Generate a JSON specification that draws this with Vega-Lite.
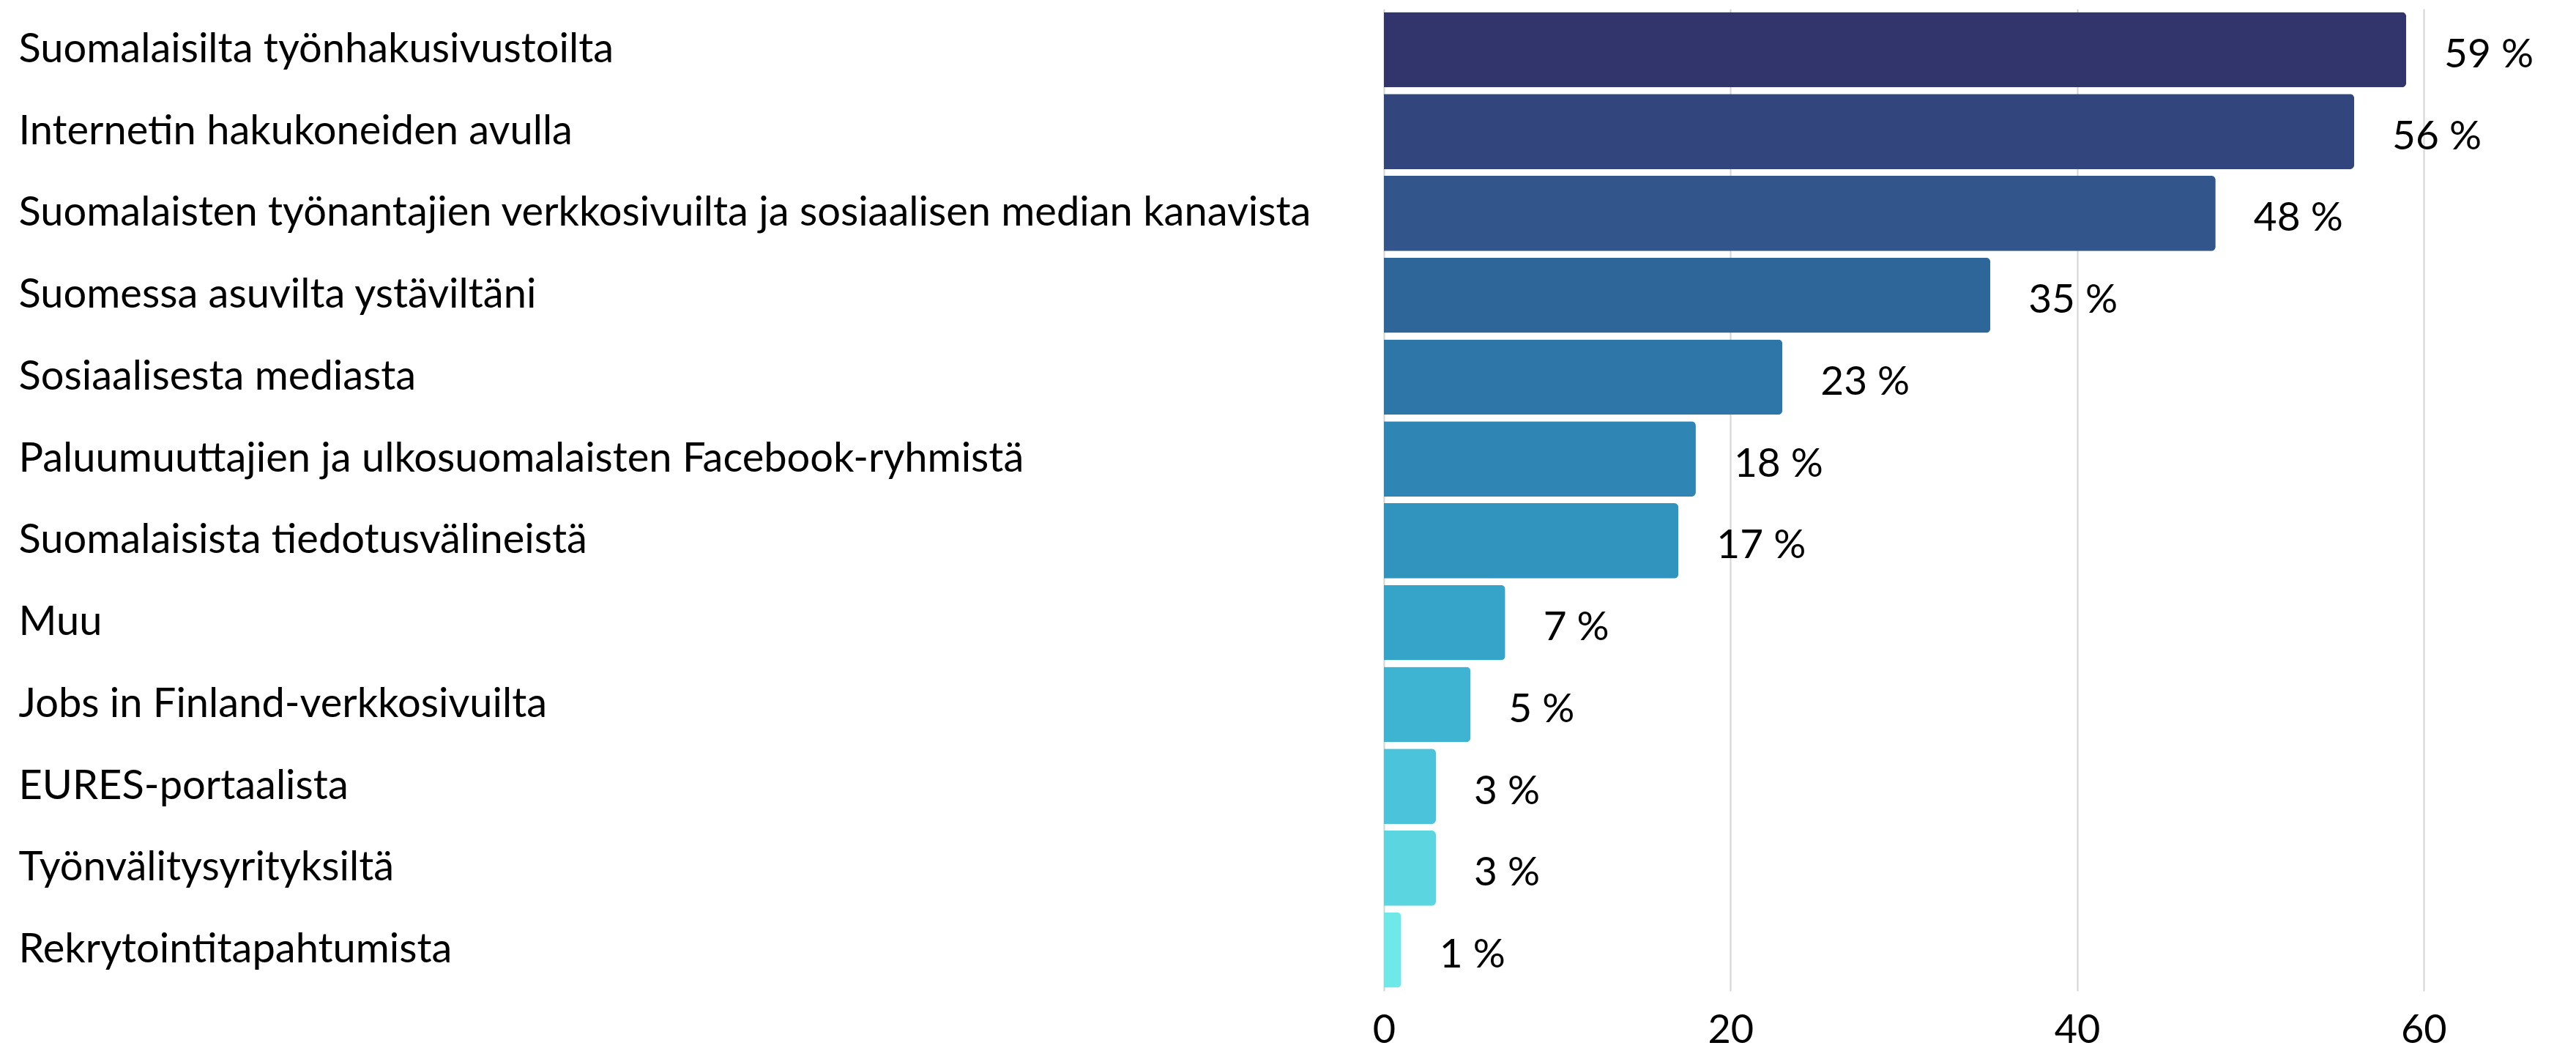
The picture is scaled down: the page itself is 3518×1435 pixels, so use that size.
{
  "$schema": "https://vega.github.io/schema/vega-lite/v6.json",
  "autosize": "none",
  "padding": {"left": 1890, "top": 12, "right": 0, "bottom": 82},
  "width": 1628,
  "height": 1341,
  "background": "white",
  "config": {
    "view": {"stroke": null},
    "font": "Lato"
  },
  "data": {
    "values": [
      {"source": " Suomalaisilta työnhakusivustoilta", "value": 59},
      {"source": "Internetin hakukoneiden avulla", "value": 56},
      {"source": "Suomalaisten työnantajien verkkosivuilta ja sosiaalisen median kanavista", "value": 48},
      {"source": "Suomessa asuvilta ystäviltäni", "value": 35},
      {"source": "Sosiaalisesta mediasta", "value": 23},
      {"source": "Paluumuuttajien ja ulkosuomalaisten Facebook-ryhmistä", "value": 18},
      {"source": "Suomalaisista tiedotusvälineistä", "value": 17},
      {"source": "Muu", "value": 7},
      {"source": "Jobs in Finland-verkkosivuilta", "value": 5},
      {"source": "EURES-portaalista", "value": 3},
      {"source": "Työnvälitysyrityksiltä", "value": 3},
      {"source": "Rekrytointitapahtumista", "value": 1}
    ]
  },
  "transform": [{"calculate": "datum.value + ' %'", "as": "label"}],
  "encoding": {
    "y": {
      "field": "source",
      "type": "nominal",
      "sort": null,
      "scale": {"paddingInner": 0.08, "paddingOuter": 0.04},
      "axis": {
        "title": null,
        "ticks": false,
        "tickSize": 0,
        "domain": false,
        "grid": false,
        "labelAlign": "left",
        "labelPadding": 1865,
        "labelLimit": 1850,
        "labelFontSize": 56,
        "labelFont": "Lato",
        "labelColor": "#000000"
      }
    },
    "x": {
      "field": "value",
      "type": "quantitative",
      "scale": {"domain": [0, 68.8], "nice": false},
      "axis": {
        "title": null,
        "values": [0, 20, 40, 60],
        "ticks": false,
        "tickSize": 0,
        "domain": false,
        "grid": true,
        "gridColor": "#d4d4d4",
        "gridWidth": 2,
        "labelFontSize": 54,
        "labelFont": "Lato",
        "labelColor": "#000000",
        "labelBaseline": "alphabetic",
        "labelPadding": 70,
        "labelFlush": false
      }
    }
  },
  "layer": [
    {
      "mark": {"type": "bar", "cornerRadiusEnd": 6},
      "encoding": {
        "color": {
          "field": "source",
          "type": "nominal",
          "sort": null,
          "legend": null,
          "scale": {
            "domain": [
              " Suomalaisilta työnhakusivustoilta",
              "Internetin hakukoneiden avulla",
              "Suomalaisten työnantajien verkkosivuilta ja sosiaalisen median kanavista",
              "Suomessa asuvilta ystäviltäni",
              "Sosiaalisesta mediasta",
              "Paluumuuttajien ja ulkosuomalaisten Facebook-ryhmistä",
              "Suomalaisista tiedotusvälineistä",
              "Muu",
              "Jobs in Finland-verkkosivuilta",
              "EURES-portaalista",
              "Työnvälitysyrityksiltä",
              "Rekrytointitapahtumista"
            ],
            "range": ["#31356b", "#33457d", "#32558b", "#2f6699", "#2e76a8", "#2f86b5", "#3094bf", "#36a3c9", "#3eb3d2", "#4bc3da", "#5bd5e0", "#6ee8e8"]
          }
        }
      }
    },
    {
      "mark": {"type": "text", "align": "left", "baseline": "middle", "dx": 52, "dy": 7, "fontSize": 55, "font": "Lato", "color": "#000000"},
      "encoding": {"text": {"field": "label"}}
    }
  ]
}
